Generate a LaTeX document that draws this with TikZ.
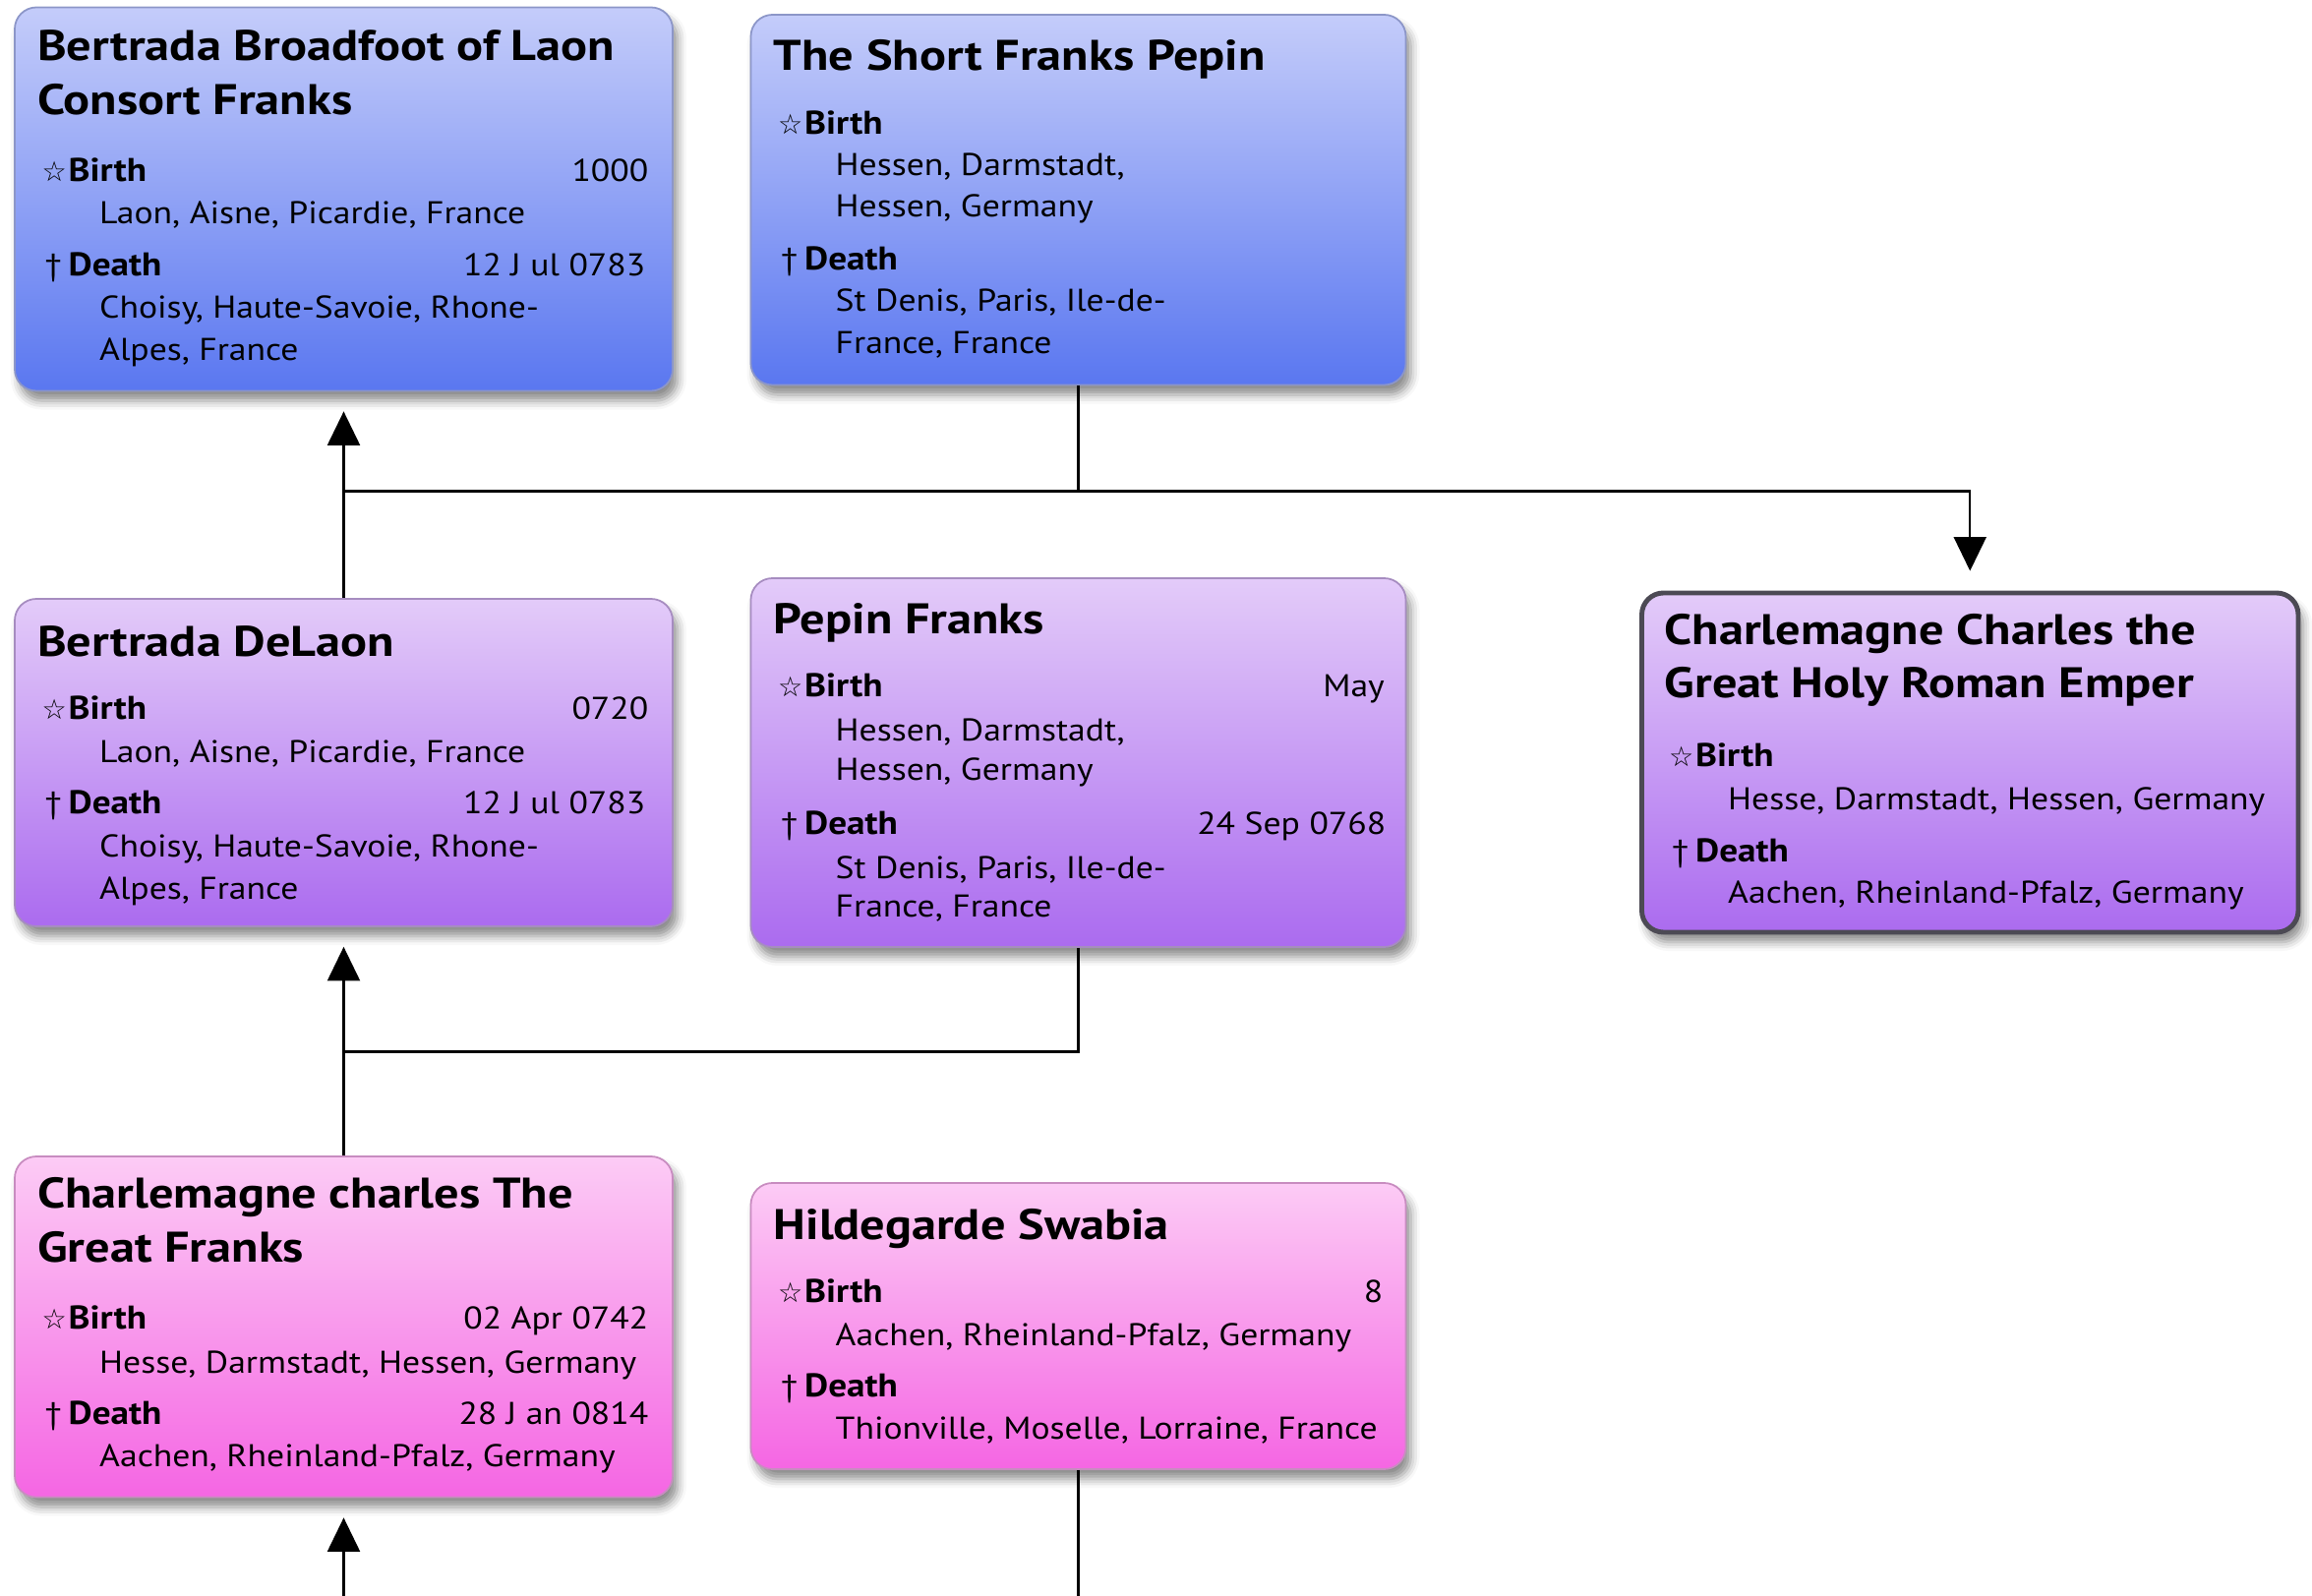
\documentclass[tikz,border=0pt]{standalone}
\usepackage{fontspec}
\setmainfont{PT Sans}[FakeStretch=1.115]
\newfontfamily\ttlfont{PT Sans}[FakeStretch=1.155]
\newfontfamily\symfont{DejaVu Sans}
\usetikzlibrary{arrows.meta,shadows.blur}
\definecolor{blueT}{HTML}{C4CCFA}
\definecolor{blueB}{HTML}{5A77F0}
\definecolor{blueE}{HTML}{8C96C8}
\definecolor{purT}{HTML}{E3CBF9}
\definecolor{purB}{HTML}{AB6BEF}
\definecolor{purE}{HTML}{A68CC0}
\definecolor{pinT}{HTML}{FCCBF5}
\definecolor{pinB}{HTML}{F566E3}
\definecolor{pinE}{HTML}{C88CC0}
\definecolor{selE}{HTML}{4C4A54}
\tikzset{
  card/.style={rounded corners=0.22cm, line width=0.5pt, inner sep=0pt,
    blur shadow={shadow xshift=0.05cm, shadow yshift=-0.1cm, shadow blur radius=0.09cm, shadow opacity=45}},
  bluecard/.style={card, draw=blueE, top color=blueT, bottom color=blueB},
  purcard/.style={card, draw=purE, top color=purT, bottom color=purB},
  pincard/.style={card, draw=pinE, top color=pinT, bottom color=pinB},
  selcard/.style={card, draw=selE, line width=1.4pt, top color=purT, bottom color=purB},
  ttl/.style={anchor=base west, inner sep=0pt, font=\ttlfont\fontsize{12.4}{14}\selectfont\bfseries},
  lab/.style={anchor=base west, inner sep=0pt, font=\fontsize{9.5}{11}\selectfont\bfseries},
  plc/.style={anchor=base west, inner sep=0pt, font=\fontsize{9.1}{11}\selectfont},
  dte/.style={anchor=base east, inner sep=0pt, font=\fontsize{9.1}{11}\selectfont},
  star/.style={anchor=base west, inner sep=0pt, font=\symfont\fontsize{8}{9}\selectfont},
  dag/.style={anchor=base west, inner sep=0pt, font=\fontsize{9}{10}\selectfont},
  conn/.style={line width=0.6pt},
  arr/.style={conn, -{Triangle[length=0.345cm, width=0.33cm]}, shorten >=0.2cm}
}
\begin{document}
\begin{tikzpicture}[x=0.015cm, y=-0.015cm]
\useasboundingbox (0,0) rectangle (1567.33,1082);

% ---------- Box 1: Bertrada Broadfoot of Laon
\node[bluecard, minimum width=6.69cm, minimum height=3.9cm] (bb) at (233,135) {};
\node[ttl] (bbt1) at (25,40.7) {Bertrada Broadfoot of Laon};
\node[ttl] (bbt2) at (25,77.8) {Consort Franks};
\node[star] (bbs1) at (28,123.3) {☆};
\node[lab] (bbl1) at (46,123.3) {Birth};
\node[dte] (bbd1) at (440,123.3) {1000};
\node[plc] (bbp1) at (67,152) {Laon, Aisne, Picardie, France};
\node[dag] (bbs2) at (30,187.3) {†};
\node[lab] (bbl2) at (46,187.3) {Death};
\node[dte] (bbd2) at (438,187.3) {12 J ul 0783};
\node[plc] (bbp2) at (67,215.6) {Choisy, Haute-Savoie, Rhone-};
\node[plc] (bbp3) at (67,244.4) {Alpes, France};

% ---------- Box 2: The Short Franks Pepin
\node[bluecard, minimum width=6.66cm, minimum height=3.765cm] (sp) at (731,135.5) {};
\node[ttl] (spt1) at (524,47.8) {The Short Franks Pepin};
\node[star] (sps1) at (527,90.7) {☆};
\node[lab] (spl1) at (545,90.7) {Birth};
\node[plc] (spp1) at (566,118.9) {Hessen, Darmstadt,};
\node[plc] (spp2) at (566,147) {Hessen, Germany};
\node[dag] (sps2) at (529,183.3) {†};
\node[lab] (spl2) at (545,183.3) {Death};
\node[plc] (spp3) at (566,211) {St Denis, Paris, Ile-de-};
\node[plc] (spp4) at (566,240) {France, France};

% ---------- Box 3: Bertrada DeLaon
\node[purcard, minimum width=6.69cm, minimum height=3.33cm] (dl) at (233,517) {};
\node[ttl] (dlt1) at (25,445) {Bertrada DeLaon};
\node[star] (dls1) at (28,488) {☆};
\node[lab] (dll1) at (46,488) {Birth};
\node[dte] (dld1) at (440,488) {0720};
\node[plc] (dlp1) at (67,517) {Laon, Aisne, Picardie, France};
\node[dag] (dls2) at (30,552) {†};
\node[lab] (dll2) at (46,552) {Death};
\node[dte] (dld2) at (438,552) {12 J ul 0783};
\node[plc] (dlp2) at (67,581) {Choisy, Haute-Savoie, Rhone-};
\node[plc] (dlp3) at (67,610) {Alpes, France};

% ---------- Box 4: Pepin Franks
\node[purcard, minimum width=6.66cm, minimum height=3.75cm] (pf) at (731,517) {};
\node[ttl] (pft1) at (524,430) {Pepin Franks};
\node[star] (pfs1) at (527,472.2) {☆};
\node[lab] (pfl1) at (545,472.2) {Birth};
\node[dte] (pfd1) at (939,472.2) {May};
\node[plc] (pfp1) at (566,502.2) {Hessen, Darmstadt,};
\node[plc] (pfp2) at (566,528.9) {Hessen, Germany};
\node[dag] (pfs2) at (529,565.6) {†};
\node[lab] (pfl2) at (545,565.6) {Death};
\node[dte] (pfd2) at (940,565.6) {24 Sep 0768};
\node[plc] (pfp3) at (566,595.6) {St Denis, Paris, Ile-de-};
\node[plc] (pfp4) at (566,621.8) {France, France};

% ---------- Box 5: Charlemagne Charles the Great Holy Roman Emper
\node[selcard, minimum width=6.675cm, minimum height=3.45cm] (ch) at (1335.5,517) {};
\node[ttl] (cht1) at (1128,436.7) {Charlemagne Charles the};
\node[ttl] (cht2) at (1128,473.3) {Great Holy Roman Emper};
\node[star] (chs1) at (1131,520) {☆};
\node[lab] (chl1) at (1149,520) {Birth};
\node[plc] (chp1) at (1171,548.9) {Hesse, Darmstadt, Hessen, Germany};
\node[dag] (chs2) at (1133,584.4) {†};
\node[lab] (chl2) at (1149,584.4) {Death};
\node[plc] (chp2) at (1171,612.2) {Aachen, Rheinland-Pfalz, Germany};

% ---------- Box 6: Charlemagne charles The Great Franks
\node[pincard, minimum width=6.69cm, minimum height=3.465cm] (cg) at (233,899.5) {};
\node[ttl] (cgt1) at (25,818.9) {Charlemagne charles The};
\node[ttl] (cgt2) at (25,855.6) {Great Franks};
\node[star] (cgs1) at (28,901) {☆};
\node[lab] (cgl1) at (46,901) {Birth};
\node[dte] (cgd1) at (440,901) {02 Apr 0742};
\node[plc] (cgp1) at (67,931) {Hesse, Darmstadt, Hessen, Germany};
\node[dag] (cgs2) at (30,965.6) {†};
\node[lab] (cgl2) at (46,965.6) {Death};
\node[dte] (cgd2) at (440,965.6) {28 J an 0814};
\node[plc] (cgp2) at (67,994.4) {Aachen, Rheinland-Pfalz, Germany};

% ---------- Box 7: Hildegarde Swabia
\node[pincard, minimum width=6.66cm, minimum height=2.91cm] (hs) at (731,899) {};
\node[ttl] (hst1) at (524,840) {Hildegarde Swabia};
\node[star] (hss1) at (527,882.7) {☆};
\node[lab] (hsl1) at (545,882.7) {Birth};
\node[dte] (hsd1) at (938,882.7) {8};
\node[plc] (hsp1) at (566,912.2) {Aachen, Rheinland-Pfalz, Germany};
\node[dag] (hss2) at (529,946.7) {†};
\node[lab] (hsl2) at (545,946.7) {Death};
\node[plc] (hsp2) at (566,975.6) {Thionville, Moselle, Lorraine, France};

% ---------- Connectors
\coordinate (j1) at (233,333);
\coordinate (j2) at (233,713);
\coordinate (b1) at (233,1082);
\coordinate (b2) at (731,1082);
\draw[arr] (dl.north) -- (bb.south);
\draw[conn] (sp.south) |- (j1);
\draw[arr] (j1) -| (ch.north);
\draw[arr] (cg.north) -- (dl.south);
\draw[conn] (pf.south) |- (j2);
\draw[arr] (b1) -- (cg.south);
\draw[conn] (hs.south) -- (b2);
\end{tikzpicture}
\end{document}
